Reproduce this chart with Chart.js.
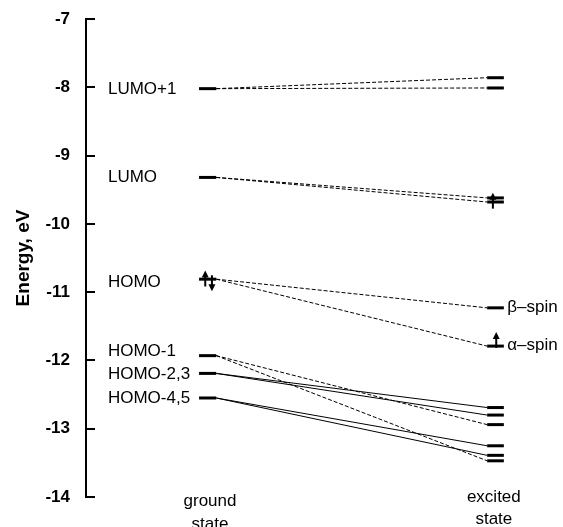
<!DOCTYPE html>
<html>
<head>
  <script src="https://cdn.jsdelivr.net/npm/chart.js"></script>
  <style>
    body { margin: 0; background: #fff; }
    #wrap { width: 563px; height: 527px; }
  </style>
</head>
<body>
<div id="wrap"><canvas id="levels"></canvas></div>
<script>
// ground state orbital energies (eV) and their labels
const groundLevels = [-8.02, -9.32, -10.81, -11.93, -12.19, -12.55];
const groundNames = ['LUMO+1', 'LUMO', 'HOMO', 'HOMO-1', 'HOMO-2,3', 'HOMO-4,5'];
const groundNameY = [-8.03, -9.32, -10.86, -11.87, -12.21, -12.55];

// excited state orbital energies (eV)
const excitedLevels = [-7.86, -8.01, -9.62, -9.68, -11.23, -11.79, -12.69, -12.80, -12.94, -13.25, -13.39, -13.47];
const spinNames = ['β–spin', 'α–spin'];
const spinIndex = [4, 5];

// correlation lines: ground index -> excited index
const linkFrom = [0, 0, 1, 1, 2, 2, 3, 3, 4, 4, 5, 5];
const linkTo = [0, 1, 2, 3, 4, 5, 8, 11, 6, 7, 9, 10];
const linkDashed = [true, true, true, true, true, true, true, true, false, false, false, false];

// electron arrows: energy and direction
const arrowY = [-10.80, -10.87, -9.66, -11.70];
const arrowUp = [true, false, true, true];

const yTicks = [-7, -8, -9, -10, -11, -12, -13, -14];

// horizontal placement on a 0..100 x scale
const GX = [23.7, 27.3], EX = [84.1, 87.6];
const ARROW_X = [25.0, 26.4, 85.3, 86.0];

const datasets = [];
groundLevels.forEach(v => datasets.push({
  data: [{x: GX[0], y: v}, {x: GX[1], y: v}], borderColor: '#000', borderWidth: 3
}));
excitedLevels.forEach(v => datasets.push({
  data: [{x: EX[0], y: v}, {x: EX[1], y: v}], borderColor: '#000', borderWidth: 3
}));
linkFrom.forEach((g, i) => datasets.push({
  data: [{x: GX[1], y: groundLevels[g]}, {x: EX[0], y: excitedLevels[linkTo[i]]}],
  borderColor: '#000', borderWidth: 1, borderDash: linkDashed[i] ? [4, 2] : []
}));

const labelFont = '17px "Liberation Sans", Arial, sans-serif';

const extras = {
  id: 'extras',
  afterDraw(chart) {
    const c = chart.ctx, xs = chart.scales.x, ys = chart.scales.y;
    const left = chart.chartArea.left;
    c.save();
    c.strokeStyle = '#000';
    c.fillStyle = '#000';
    // inward tick marks
    c.lineWidth = 2;
    yTicks.forEach(t => {
      const py = Math.round(ys.getPixelForValue(t));
      c.beginPath(); c.moveTo(left, py); c.lineTo(left + 9, py); c.stroke();
    });
    // level names
    c.font = labelFont;
    c.textBaseline = 'middle';
    c.textAlign = 'left';
    groundNames.forEach((n, i) => c.fillText(n, xs.getPixelForValue(4.6), ys.getPixelForValue(groundNameY[i])));
    spinNames.forEach((n, i) => c.fillText(n, xs.getPixelForValue(88.3), ys.getPixelForValue(excitedLevels[spinIndex[i]]) - 1));
    // state captions
    c.textAlign = 'center';
    const bottom = ys.getPixelForValue(-14);
    c.fillText('ground', xs.getPixelForValue(26.0), bottom + 4);
    c.fillText('state', xs.getPixelForValue(26.0), bottom + 27);
    c.fillText('excited', xs.getPixelForValue(85.5), bottom);
    c.fillText('state', xs.getPixelForValue(85.5), bottom + 22);
    // electron arrows
    c.lineWidth = 2;
    arrowY.forEach((v, i) => {
      const px = xs.getPixelForValue(ARROW_X[i]);
      const py = ys.getPixelForValue(v);
      const half = 8, dir = arrowUp[i] ? -1 : 1;
      c.beginPath(); c.moveTo(px, py - dir * half); c.lineTo(px, py + dir * (half - 3)); c.stroke();
      const tip = py + dir * half;
      c.beginPath();
      c.moveTo(px, tip);
      c.lineTo(px - 3.5, tip - dir * 7);
      c.lineTo(px + 3.5, tip - dir * 7);
      c.closePath(); c.fill();
    });
    c.restore();
  }
};

new Chart(document.getElementById('levels').getContext('2d'), {
  type: 'line',
  data: { datasets: datasets },
  options: {
    responsive: true,
    maintainAspectRatio: false,
    animation: false,
    events: [],
    layout: { padding: { top: 19, bottom: 30, left: 0, right: 0 } },
    elements: { point: { radius: 0 }, line: { tension: 0 } },
    scales: {
      x: { type: 'linear', min: 0, max: 100, display: false },
      y: {
        min: -14, max: -7,
        afterFit(scale) { scale.width = 86; scale.paddingTop = 0; scale.paddingBottom = 0; },
        ticks: {
          stepSize: 1, padding: 16, color: '#000',
          font: { family: '"Liberation Sans", Arial, sans-serif', size: 17, weight: 'bold' }
        },
        grid: { drawOnChartArea: false, drawTicks: false },
        border: { display: true, color: '#000', width: 2 },
        title: {
          display: true, text: 'Energy, eV', color: '#000',
          padding: { top: 12, bottom: 0 },
          font: { family: '"Liberation Sans", Arial, sans-serif', size: 19, weight: 'bold' }
        }
      }
    },
    plugins: { legend: { display: false }, tooltip: { enabled: false } }
  },
  plugins: [extras]
});
</script>
</body>
</html>
